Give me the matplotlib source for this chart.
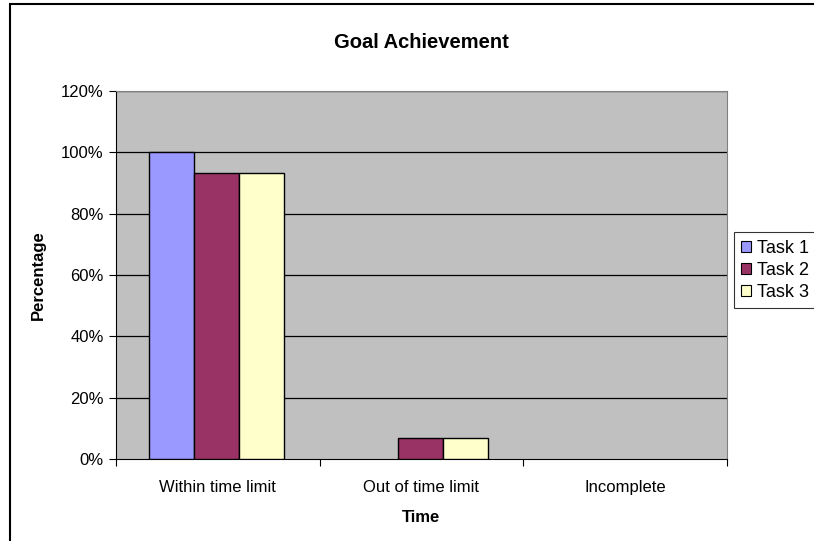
import matplotlib
matplotlib.use('Agg')
import matplotlib.pyplot as plt
import numpy

plt.rcParams['font.family'] = ['Liberation Sans', 'DejaVu Sans']

categories = ['Within time limit', 'Out of time limit', 'Incomplete']
series = ['Task 1', 'Task 2', 'Task 3']
task1 = [100.0, 0.0, 0.0]
task2 = [93.3, 6.7, 0.0]
task3 = [93.3, 6.7, 0.0]
colors = ['#9999FF', '#993366', '#FFFFCC']
yticks = [0, 20, 40, 60, 80, 100, 120]

fig = plt.figure(figsize=(8.14, 5.41), dpi=100)
ax = fig.add_axes([116/814., 1-459/541., 611/814., 368/541.])
ax.set_facecolor('#C0C0C0')

# outer chart border (cropped at right/bottom)
fig.patches.append(matplotlib.patches.Rectangle((10/814., -0.05), 1.1, 1-4.5/541.+0.05,
                   transform=fig.transFigure, fill=False, edgecolor='k', lw=1.5))

x = numpy.arange(len(categories))
w = 0.221
for i, (vals, c) in enumerate(zip([task1, task2, task3], colors)):
    lws = [1 if v > 0 else 0 for v in vals]
    ax.bar(x + (i-1)*w - 0.006, vals, w, color=c, edgecolor='k', linewidth=lws, label=series[i], zorder=3)

ax.set_xlim(-0.5, 2.5)
ax.set_ylim(0, 120)
ax.set_yticks(yticks)
ax.set_yticklabels(['%d%%' % t for t in yticks], fontsize=12)
for t in yticks[1:]:
    ax.axhline(t, color='k', lw=0.9, zorder=1)
ax.set_xticks([-0.5, 0.5, 1.5, 2.5])
ax.set_xticklabels([])
ax.set_xticks(x, minor=True)
ax.set_xticklabels(categories, minor=True, fontsize=12)
ax.tick_params(axis='x', which='minor', length=0, pad=15)
ax.tick_params(axis='x', which='major', length=5, direction='out', color='k')
ax.tick_params(axis='y', length=5, direction='out', color='k', pad=4)
for s in ['top', 'right']:
    ax.spines[s].set_color('#808080')
ax.spines['left'].set_color('k')
ax.spines['bottom'].set_color('k')

ax.set_title('Goal Achievement', fontsize=14.5, fontweight='bold', pad=31)
ax.set_xlabel('Time', fontsize=12, fontweight='bold', labelpad=11)
ax.set_ylabel('Percentage', fontsize=12, fontweight='bold', labelpad=11)

leg = ax.legend(loc='center left', bbox_to_anchor=(1.0115, 0.513), fontsize=13,
                frameon=True, fancybox=False, edgecolor='k', handlelength=0.55,
                handleheight=0.55, handletextpad=0.35, borderpad=0.4, labelspacing=0.28,
                borderaxespad=0)
leg.get_frame().set_linewidth(0.8)
for h in leg.legend_handles:
    h.set_linewidth(0.8)

plt.savefig('out.png', dpi=100)
